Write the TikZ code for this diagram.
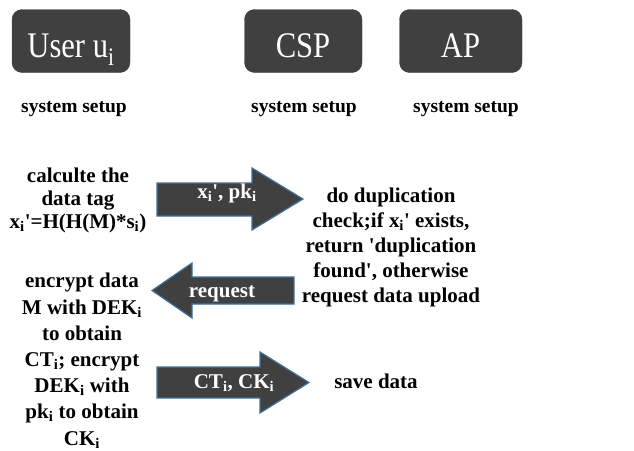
\documentclass[tikz,border=0pt]{standalone}
\usepackage{fontspec}
\setmainfont{Liberation Serif}
\newfontfamily\actorfont{Liberation Serif}[FakeStretch=0.85]
\newcommand\sq{\textquotesingle}
\newcommand\sbi{\textsubscript{i}}
\definecolor{boxgray}{HTML}{404040}
\definecolor{edgeblue}{HTML}{41719C}
\begin{document}
\begin{tikzpicture}[x=1pt,y=-1pt,
  every node/.style={inner sep=0pt,outer sep=0pt},
  actor/.style={fill=boxgray,draw=boxgray,rounded corners=10pt},
  actortext/.style={text=white,font=\actorfont\fontsize{36}{40}\selectfont,anchor=base},
  setup/.style={font=\fontsize{19.5}{23}\selectfont\bfseries,anchor=base},
  body/.style={font=\fontsize{21}{25}\selectfont\bfseries,align=center,anchor=base},
  blockarrow/.style={fill=boxgray,draw=edgeblue,line width=1.2pt,line join=miter},
  arrowtext/.style={text=white,font=\fontsize{21}{24}\selectfont\bfseries,anchor=base}]
\useasboundingbox (0,0) rectangle (634,450);
% actors
\filldraw[actor] (12,9.5) rectangle (130,72.5);
\filldraw[actor] (244.5,9.5) rectangle (362,72.5);
\filldraw[actor] (399.5,9.5) rectangle (522,72.5);
\node[actortext] (user) at (71,57) {User u\sbi};
\node[actortext] (csp) at (303,57) {CSP};
\node[actortext] (ap) at (460.5,57) {AP};
% system setup
\node[setup] (su) at (74,112) {system setup};
\node[setup] (sc) at (304,112) {system setup};
\node[setup] (sa) at (466,112) {system setup};
% left texts (base anchor = last line baseline)
\node[body,font=\fontsize{21}{23}\selectfont\bfseries] (tag) at (78,228) {calculte the\\data tag\\x\sbi\sq=H(H(M)*s\sbi)};
\node[body,font=\fontsize{21}{26.2}\selectfont\bfseries] (enc) at (82,445) {encrypt data\\M with DEK\sbi\\to obtain\\CT\sbi; encrypt\\DEK\sbi{} with\\pk\sbi{} to obtain\\CK\sbi};
% right texts
\node[body] (dup) at (391,302) {do duplication\\check;if x\sbi\sq{} exists,\\return \sq duplication\\found\sq, otherwise\\request data upload};
\node[body] (save) at (376,388) {save data};
% arrows
\filldraw[blockarrow] (157,183) -- (252,183) -- (252,168) -- (303,199) -- (252,230) -- (252,216) -- (157,216) -- cycle;
\filldraw[blockarrow] (294,277) -- (192,277) -- (192,263) -- (152,290.5) -- (192,318) -- (192,304) -- (294,304) -- cycle;
\filldraw[blockarrow] (157,367) -- (260,367) -- (260,352) -- (309,382.5) -- (260,413) -- (260,398) -- (157,398) -- cycle;
\node[arrowtext] (l1) at (227,198) {x\sbi\sq, pk\sbi};
\node[arrowtext] (l2) at (222,297) {request};
\node[arrowtext] (l3) at (234,388) {CT\sbi, CK\sbi};
\end{tikzpicture}
\end{document}
